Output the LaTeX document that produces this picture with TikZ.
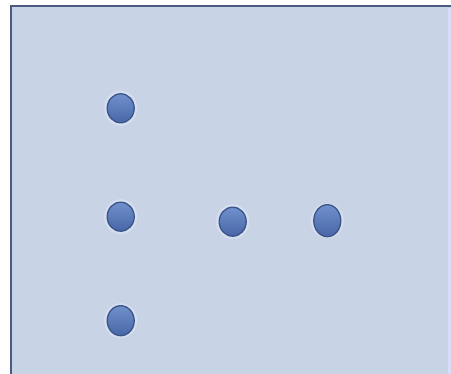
\documentclass[tikz,border=0pt]{standalone}
\usetikzlibrary{shapes.geometric}
\definecolor{panelfill}{HTML}{C8D3E6}
\definecolor{paneledge}{HTML}{4A5B82}
\definecolor{dottop}{HTML}{7090CC}
\definecolor{dotbot}{HTML}{4866A6}
\definecolor{dotedge}{HTML}{3A5488}
\definecolor{glow}{HTML}{DCE6F6}
\tikzset{
  dotnode/.style={ellipse, minimum width=27pt, minimum height=29pt, inner sep=0pt,
    top color=dottop, bottom color=dotbot, draw=dotedge, line width=1.3pt},
  glownode/.style={ellipse, minimum width=33pt, minimum height=35pt, inner sep=0pt,
    fill=glow, opacity=0.6}
}
\begin{document}
\begin{tikzpicture}[x=1pt,y=-1pt]
\useasboundingbox (0,0) rectangle (451,374);
\fill[white] (0,0) rectangle (451,374);
\begin{scope}
\clip (0,0) rectangle (451,374);
\fill[panelfill] (11,6) rectangle (460,385);
\draw[paneledge, line width=2.2pt] (11,385) -- (11,6) -- (460,6);
\fill[panelfill!80!blue!40!white] (448,8) rectangle (451,374);
\end{scope}
\foreach \n/\x/\y/\h in {a/120.7/108.3/28, b/120.7/216.7/29, c/232.7/221.7/29, d/327.3/220.7/32, e/120.7/320.7/30}{
  \node[glownode] (g\n) at (\x,\y) {};
}
\node[dotnode] (a) at (120.7,108.3) {};
\node[dotnode] (b) at (120.7,216.7) {};
\node[dotnode] (c) at (232.7,221.7) {};
\node[dotnode, minimum height=32pt] (d) at (327.3,220.7) {};
\node[dotnode, minimum height=30pt] (e) at (120.7,320.7) {};
\end{tikzpicture}
\end{document}
